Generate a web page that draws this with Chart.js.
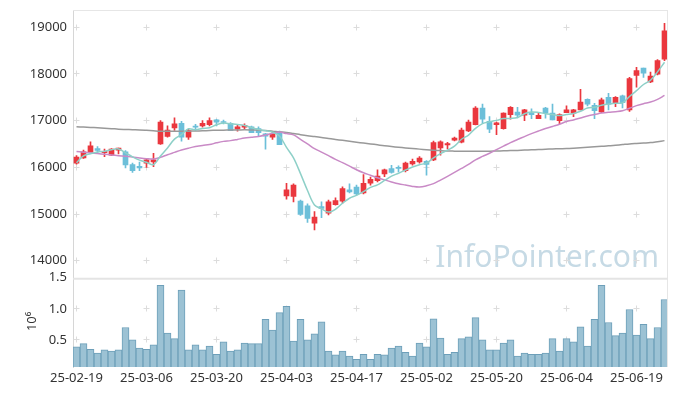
<!DOCTYPE html>
<html>
<head>
<meta charset="utf-8">
<script src="https://cdn.jsdelivr.net/npm/chart.js@4.4.0/dist/chart.umd.min.js"></script>
<style>
html,body{margin:0;padding:0;background:#fff;}
canvas{display:block;}
</style>
</head>
<body>
<canvas id="c" width="677" height="396"></canvas>
<script>
const dates = ["25-02-19","25-02-20","25-02-21","25-02-24","25-02-25","25-02-26","25-02-27","25-02-28","25-03-04","25-03-05",
"25-03-06","25-03-07","25-03-10","25-03-11","25-03-12","25-03-13","25-03-14","25-03-17","25-03-18","25-03-19",
"25-03-20","25-03-21","25-03-24","25-03-25","25-03-26","25-03-27","25-03-28","25-03-31","25-04-01","25-04-02",
"25-04-03","25-04-04","25-04-07","25-04-08","25-04-09","25-04-10","25-04-11","25-04-14","25-04-15","25-04-16",
"25-04-17","25-04-18","25-04-21","25-04-22","25-04-23","25-04-24","25-04-25","25-04-28","25-04-29","25-04-30",
"25-05-02","25-05-07","25-05-08","25-05-09","25-05-12","25-05-13","25-05-14","25-05-15","25-05-16","25-05-19",
"25-05-20","25-05-21","25-05-22","25-05-23","25-05-26","25-05-27","25-05-28","25-05-29","25-05-30","25-06-02",
"25-06-04","25-06-05","25-06-09","25-06-10","25-06-11","25-06-12","25-06-13","25-06-16","25-06-17","25-06-18",
"25-06-19","25-06-20","25-06-23","25-06-24","25-06-25"];

const opens = [16090,16200,16315,16400,16315,16260,16370,16330,16060,16020,
16090,16115,16500,16660,16845,16945,16645,16880,16885,16915,
17015,16980,16945,16815,16860,16870,16830,16715,16645,16730,
15390,15375,15275,15175,14805,15160,15020,15200,15275,15520,
15575,15450,15660,15715,15860,15975,16000,15930,16075,16115,
16130,16160,16415,16480,16580,16540,16780,16915,17270,16985,
16915,16830,17130,17185,17115,17170,17045,17270,17160,17000,
17170,17160,17230,17455,17330,17185,17500,17370,17530,17230,
17970,18125,17830,17995,18315];

const highs = [16250,16370,16545,16445,16390,16400,16415,16360,16090,16115,
16190,16300,17000,16890,17060,16985,16815,16920,17000,17060,
17030,17010,16960,16900,16930,16885,16870,16730,16760,16775,
15660,15645,15300,15220,15050,15260,15300,15345,15585,15645,
15620,15845,15790,15945,15960,16045,16030,16115,16175,16230,
16145,16560,16570,16535,16650,16840,17010,17300,17355,17085,
16970,17170,17300,17285,17245,17255,17160,17285,17355,17145,
17315,17245,17670,17470,17370,17485,17585,17515,17545,17930,
18140,18125,18040,18310,19085];

const lows = [16070,16190,16300,16315,16230,16250,16285,15990,15890,15930,
16000,16015,16490,16645,16790,16560,16600,16790,16860,16885,
16885,16930,16785,16775,16815,16745,16660,16390,16600,16485,
15320,15260,14970,14820,14660,14920,14980,15190,15230,15450,
15410,15430,15620,15690,15800,15875,15900,15900,16045,16090,
15830,16145,16260,16395,16565,16525,16765,16910,16945,16745,
16700,16815,17030,17060,17000,17045,17045,17055,17015,16930,
17170,17085,17230,17315,17045,17170,17230,17300,17270,17200,
17715,17925,17815,17980,18285];

const closes = [16220,16330,16460,16360,16345,16390,16410,16050,15930,15990,
16160,16160,16970,16800,16930,16645,16785,16860,16945,17000,
16970,16960,16785,16870,16900,16745,16745,16670,16715,16485,
15518,15620,14990,14905,14935,15120,15260,15290,15545,15475,
15430,15660,15745,15815,15945,15890,15975,16090,16130,16200,
16060,16530,16545,16510,16625,16800,16970,17270,17030,16815,
16955,17160,17285,17115,17230,17130,17115,17160,17015,17130,
17230,17230,17400,17355,17215,17445,17355,17500,17385,17900,
18070,18015,17955,18285,18925];

const ma5 = [16100,16245,16290,16330,16343,16377,16393,16311,16225,16154,
16108,16058,16242,16416,16604,16701,16826,16804,16833,16847,
16912,16947,16932,16917,16897,16852,16809,16786,16755,16672,
16427,16202,15866,15504,15194,15114,15042,15102,15230,15338,
15400,15480,15571,15625,15719,15811,15874,15943,16006,16057,
16091,16202,16293,16369,16454,16602,16690,16835,16937,16975,
17006,17044,17047,17066,17149,17184,17175,17150,17130,17110,
17130,17153,17201,17269,17286,17329,17354,17374,17380,17517,
17642,17774,17865,18045,18250];

const ma20 = [16340,16325,16310,16295,16280,16265,16250,16235,16220,16200,
16185,16180,16215,16270,16320,16370,16410,16445,16470,16487,
16525,16556,16572,16598,16626,16643,16660,16691,16730,16755,
16723,16696,16597,16502,16402,16326,16250,16171,16101,16025,
15948,15883,15831,15778,15731,15688,15649,15620,15591,15577,
15604,15650,15727,15808,15892,15976,16062,16161,16234,16301,
16378,16453,16530,16595,16659,16721,16778,16831,16876,16922,
16981,17016,17058,17101,17130,17162,17182,17193,17211,17266,
17321,17364,17398,17456,17541];

const ma120 = [16870,16862,16855,16847,16838,16829,16818,16811,16805,16800,
16792,16783,16775,16773,16771,16771,16774,16778,16783,16789,
16794,16797,16799,16800,16803,16800,16795,16788,16775,16760,
16748,16725,16700,16678,16660,16640,16617,16597,16578,16558,
16538,16520,16502,16482,16462,16445,16430,16415,16402,16390,
16378,16368,16358,16350,16347,16345,16345,16345,16345,16346,
16350,16354,16358,16363,16370,16375,16381,16387,16393,16398,
16402,16410,16420,16430,16440,16450,16460,16474,16488,16502,
16512,16521,16530,16550,16572];

// volume in millions (10^6)
const volumes = [0.39,0.44,0.35,0.29,0.34,0.32,0.34,0.70,0.50,0.37,
0.35,0.42,1.38,0.61,0.52,1.30,0.34,0.42,0.34,0.40,
0.27,0.47,0.32,0.34,0.45,0.44,0.44,0.83,0.66,0.94,
1.04,0.48,0.83,0.50,0.60,0.79,0.32,0.26,0.32,0.24,
0.19,0.27,0.19,0.27,0.26,0.37,0.40,0.30,0.24,0.45,
0.39,0.84,0.53,0.27,0.30,0.52,0.55,0.86,0.50,0.34,
0.34,0.45,0.50,0.24,0.29,0.27,0.27,0.29,0.52,0.32,
0.52,0.47,0.71,0.40,0.83,1.38,0.78,0.57,0.61,0.99,
0.58,0.75,0.52,0.70,1.15];

const priceTicks = [14000,15000,16000,17000,18000,19000];
const volTicks = [0.5,1.0,1.5];
const priceRange = [13635, 19370];
const volRange = [0.065, 1.5];
const labelEvery = 10;

const UP = '#ea373e', DOWN = '#6cbfd9';
const candleColors = closes.map((c, i) => c >= opens[i] ? UP : DOWN);
const FONT = "'Noto Sans', sans-serif";

const decor = {
  id: 'decor',
  beforeDatasetsDraw(chart) {
    const {ctx, chartArea: a, scales} = chart;
    ctx.save();
    // watermark
    ctx.font = "30px " + FONT;
    ctx.fillStyle = 'rgb(198,218,229)';
    ctx.textAlign = 'right';
    ctx.textBaseline = 'alphabetic';
    ctx.fillText('InfoPointer.com', a.right - 9, scales.y.bottom - 11);
    // grid crosses at tick intersections
    ctx.strokeStyle = '#dcdcdc';
    ctx.lineWidth = 1;
    const xs = [];
    scales.x.ticks.forEach((t, i) => { if (i % labelEvery === 0) xs.push(Math.floor(scales.x.getPixelForTick(i)) + 0.5); });
    [scales.y, scales.yv].forEach(s => {
      s.ticks.forEach(t => {
        const py = Math.floor(s.getPixelForValue(t.value)) + 0.5;
        if (py < s.top + 2) return;
        xs.forEach(px => {
          ctx.beginPath();
          ctx.moveTo(px - 3, py); ctx.lineTo(px + 3, py);
          ctx.moveTo(px, py - 3); ctx.lineTo(px, py + 3);
          ctx.stroke();
        });
      });
    });
    ctx.restore();
  },
  afterDatasetsDraw(chart) {
    const {ctx, chartArea: a, scales} = chart;
    ctx.save();
    // frame
    ctx.lineWidth = 1;
    ctx.strokeStyle = '#e6e6e6';
    ctx.beginPath();
    ctx.moveTo(a.left, a.top + 0.5); ctx.lineTo(a.right, a.top + 0.5);
    ctx.moveTo(a.right - 0.5, a.top); ctx.lineTo(a.right - 0.5, a.bottom);
    ctx.stroke();
    ctx.lineWidth = 2;
    ctx.strokeStyle = '#e4e4e4';
    ctx.beginPath();
    ctx.moveTo(a.left, scales.yv.top + 1); ctx.lineTo(a.right, scales.yv.top + 1);
    ctx.stroke();
    // volume unit
    ctx.translate(32, (scales.yv.top + scales.yv.bottom) / 2 - 1);
    ctx.rotate(-Math.PI / 2);
    ctx.fillStyle = '#333';
    ctx.textAlign = 'center';
    ctx.textBaseline = 'middle';
    ctx.font = "13px " + FONT;
    ctx.fillText('10\u2076', 0, 0);
    ctx.restore();
  }
};

const tickFont = {family: FONT, size: 13};
const fitY = s => { s.width = 73; s.paddingTop = 0; s.paddingBottom = 0; };

new Chart(document.getElementById('c'), {
  type: 'bar',
  data: {
    labels: dates,
    datasets: [
      {type: 'line', label: 'MA5', data: ma5, yAxisID: 'y', borderColor: '#8ed0c8', borderWidth: 1.5, pointRadius: 0, tension: 0.35, order: 0},
      {type: 'line', label: 'MA20', data: ma20, yAxisID: 'y', borderColor: '#c98ac6', borderWidth: 1.5, pointRadius: 0, tension: 0.35, order: 0},
      {type: 'line', label: 'MA120', data: ma120, yAxisID: 'y', borderColor: '#999999', borderWidth: 1.5, pointRadius: 0, tension: 0.35, order: 0},
      {label: 'body', data: opens.map((o, i) => [o, closes[i]]), yAxisID: 'y', backgroundColor: candleColors, barThickness: 5, minBarLength: 1, grouped: false, order: 1},
      {label: 'wick', data: lows.map((l, i) => [l, highs[i]]), yAxisID: 'y', backgroundColor: candleColors, barThickness: 1, grouped: false, order: 2},
      {label: 'volume', data: volumes, yAxisID: 'yv', backgroundColor: '#9cc2d4', borderColor: '#6d9fb9', borderWidth: 1, barPercentage: 1, categoryPercentage: 1, grouped: false, order: 3}
    ]
  },
  options: {
    responsive: false,
    animation: false,
    devicePixelRatio: 1,
    layout: {padding: {top: 10, right: 9, left: 0, bottom: 0}},
    plugins: {legend: {display: false}, tooltip: {enabled: false}},
    scales: {
      x: {
        type: 'category',
        offset: true,
        grid: {display: false, drawTicks: false},
        border: {display: false},
        ticks: {autoSkip: false, maxRotation: 0, minRotation: 0, padding: 3, color: '#333', font: tickFont,
          callback: (v, i) => (i % labelEvery === 0 ? dates[i] : '')},
        afterFit: s => { s.height = 29; s.paddingLeft = 0; s.paddingRight = 0; }
      },
      yv: {
        type: 'linear', position: 'left', stack: 'main', stackWeight: 1,
        min: volRange[0], max: volRange[1],
        grid: {display: false, drawTicks: false},
        border: {display: true, color: '#d6d6d6'},
        afterBuildTicks: s => { s.ticks = volTicks.map(v => ({value: v})); },
        ticks: {padding: 6, color: '#333', font: tickFont, callback: v => Number(v).toFixed(1)},
        afterFit: fitY
      },
      y: {
        type: 'linear', position: 'left', stack: 'main', stackWeight: 3,
        min: priceRange[0], max: priceRange[1],
        grid: {display: false, drawTicks: false},
        border: {display: true, color: '#d6d6d6'},
        afterBuildTicks: s => { s.ticks = priceTicks.map(v => ({value: v})); },
        ticks: {padding: 6, color: '#333', font: tickFont, callback: v => String(v)},
        afterFit: fitY
      }
    }
  },
  plugins: [decor]
});
</script>
</body>
</html>
